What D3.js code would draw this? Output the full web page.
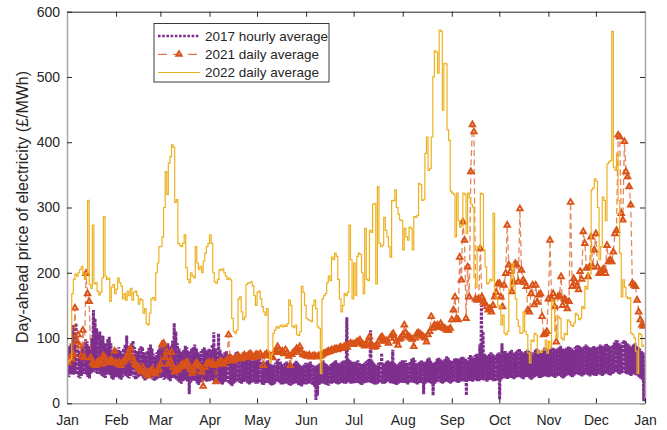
<!DOCTYPE html>
<html><head><meta charset="utf-8">
<script src="https://cdn.jsdelivr.net/npm/d3@7"></script>
<style>
body{margin:0;background:#fff;}
svg{display:block;font-family:"Liberation Sans",Arial,Helvetica,sans-serif;}
</style></head><body>
<svg id="chart" width="667" height="430"></svg>
<script>
const monthTicks=[0,31,59,90,120,151,181,212,243,273,304,334,365];
const monthLabels=["Jan","Feb","Mar","Apr","May","Jun","Jul","Aug","Sep","Oct","Nov","Dec","Jan"];
const yTicks=[0,100,200,300,400,500,600];
const seriesNames=["2017 hourly average","2021 daily average","2022 daily average"];

// 2017: [night low, day high] per day
const lowHigh2017=[
[42,85],[40,88],[44,92],[45,120],[43,95],[46,123],[44,90],[40,78],[38,80],[42,86],[45,92],[46,98],[44,95],[40,88],[38,82],[45,100],[48,143],[50,130],[47,115],[45,105],[46,110],[44,96],[42,104],[40,92],[39,85],[44,98],[46,102],[43,92],[38,80],[36,78],[40,84],
[40,82],[42,86],[38,80],[36,76],[40,84],[44,90],[42,104],[40,88],[38,82],[42,92],[44,96],[40,86],[36,78],[38,80],[40,84],[42,88],[41,86],[38,78],[35,74],[37,80],[40,85],[42,90],[39,84],[36,76],[34,72],[36,78],[38,82],[40,86],
[38,84],[40,97],[36,86],[38,90],[40,92],[36,84],[34,88],[38,96],[40,123],[38,110],[36,92],[34,84],[32,80],[30,78],[34,82],[36,88],[35,86],[33,80],[14,78],[32,84],[34,86],[36,90],[34,84],[30,78],[28,74],[32,80],[34,84],[36,86],[35,82],[33,80],[34,84],
[34,82],[36,90],[35,109],[33,84],[32,80],[34,107],[33,82],[30,76],[28,72],[32,78],[34,80],[33,76],[30,72],[28,70],[26,68],[30,74],[32,78],[34,80],[33,76],[31,74],[30,72],[32,76],[34,78],[33,75],[30,70],[29,68],[31,72],[33,76],[32,74],[30,70],
[30,66],[32,68],[31,64],[29,62],[28,60],[30,64],[32,66],[31,62],[29,60],[27,58],[28,60],[30,62],[32,66],[33,68],[31,64],[29,60],[28,58],[30,62],[31,64],[30,62],[28,60],[27,58],[29,60],[30,62],[31,65],[30,63],[28,60],[27,58],[26,56],[29,60],[30,62],
[29,60],[30,62],[31,64],[30,60],[28,58],[26,56],[5,58],[12,60],[28,62],[30,64],[31,66],[30,62],[29,60],[28,58],[27,56],[29,60],[30,62],[31,64],[32,66],[30,62],[29,60],[30,62],[32,64],[31,66],[30,62],[30,132],[33,68],[32,66],[30,62],[31,64],
[30,62],[31,64],[32,66],[30,62],[29,60],[28,60],[30,62],[31,64],[32,66],[33,68],[32,112],[31,66],[30,62],[29,60],[28,58],[30,62],[32,64],[31,77],[30,62],[29,60],[31,64],[33,66],[32,64],[30,62],[31,82],[30,62],[29,60],[28,58],[30,62],[31,64],[32,66],
[31,64],[32,66],[30,62],[29,60],[31,64],[32,68],[33,70],[31,66],[30,62],[29,60],[30,64],[32,66],[31,64],[14,62],[30,64],[32,68],[33,70],[31,66],[30,62],[12,60],[30,64],[32,68],[34,70],[33,68],[31,66],[30,64],[32,68],[34,72],[33,70],[31,66],[30,64],
[32,66],[33,68],[34,70],[32,68],[31,66],[33,70],[34,72],[33,70],[33,68],[12,66],[34,70],[35,74],[34,72],[33,70],[35,74],[36,76],[34,72],[34,90],[35,150],[36,110],[35,76],[34,74],[33,72],[35,76],[36,78],[35,76],[34,74],[33,72],[35,76],[36,78],
[6,76],[36,92],[38,78],[40,80],[38,78],[37,76],[39,80],[40,82],[38,78],[37,76],[39,80],[40,82],[42,84],[40,80],[38,78],[37,76],[39,80],[41,82],[40,80],[38,78],[36,76],[38,78],[40,82],[42,84],[41,82],[39,80],[38,78],[40,82],[42,86],[41,84],[40,82],
[40,82],[42,84],[41,86],[40,84],[39,82],[41,84],[43,86],[42,88],[40,84],[38,82],[40,84],[42,86],[44,88],[43,86],[41,84],[40,82],[42,86],[44,88],[45,90],[43,88],[42,86],[41,84],[43,88],[45,90],[44,88],[42,86],[41,84],[43,86],[44,88],[42,86],
[42,86],[44,88],[45,90],[43,88],[42,86],[44,90],[46,92],[45,90],[43,88],[42,86],[44,90],[46,94],[48,97],[47,96],[45,92],[44,90],[46,94],[48,97],[47,95],[45,92],[44,90],[43,88],[42,86],[44,90],[45,92],[43,88],[42,86],[40,84],[38,80],[36,78],[3,76]
];

const daily2021=[
64,62,70,68,75,146,94,105,88,72,112,70,199,168,156,70,62,60,58,62,65,64,60,73,70,66,62,65,67,63,80,
62,60,63,58,62,65,68,70,78,84,72,65,60,58,55,52,48,55,50,45,42,48,50,52,46,45,50,52,
60,90,92,70,79,60,65,78,55,48,52,51,55,58,60,57,62,63,56,52,46,50,60,62,58,56,48,26,55,60,62,
62,60,63,58,33,60,62,65,63,60,64,66,105,70,68,65,67,70,72,70,68,72,74,70,72,75,76,72,70,74,
75,73,76,72,58,74,76,75,73,72,70,78,80,87,82,78,80,76,82,78,72,58,75,78,80,84,82,87,78,75,74,
73,72,74,71,72,73,72,71,73,72,74,76,77,78,80,79,82,81,83,84,82,85,86,84,87,88,86,90,92,91,
90,92,94,95,97,92,90,88,92,95,102,90,88,86,87,90,95,100,102,98,95,96,92,100,104,107,100,95,89,98,100,
105,120,108,104,102,100,98,87,100,107,108,106,104,102,100,94,105,110,133,115,120,118,120,116,122,118,115,114,112,112,115,
128,143,163,130,128,224,189,278,250,130,209,163,355,427,416,160,158,160,237,163,155,153,148,143,145,140,150,163,170,183,
184,163,148,181,199,273,212,202,171,186,214,212,186,298,204,189,185,179,143,140,168,181,151,181,155,166,168,133,105,107,110,
160,250,160,168,148,94,163,165,194,150,160,158,145,156,308,179,191,186,180,174,202,190,263,245,207,194,209,255,209,235,
260,209,199,199,204,206,199,242,217,220,217,232,260,265,411,408,291,281,401,355,347,332,304,184,181,179,158,140,128,120,118
];

const daily2022=[
62,65,68,168,190,198,195,200,205,210,198,190,200,311,182,176,273,183,185,172,166,170,192,286,195,190,192,156,178,182,168,
175,192,185,180,160,168,158,172,165,176,158,170,172,165,152,160,158,138,145,122,120,138,160,162,158,200,215,240,
240,255,300,355,320,368,378,396,392,308,312,245,242,240,245,258,208,190,185,200,195,192,240,215,205,210,200,218,230,240,245,
258,245,200,186,184,190,205,204,206,200,195,190,192,189,130,110,107,112,160,163,140,128,132,182,184,185,186,180,165,150,
170,172,160,148,140,135,145,80,62,75,107,112,117,115,118,120,117,120,118,122,158,150,118,116,120,105,104,110,179,170,150,
130,128,127,125,150,158,145,117,115,46,160,165,168,185,195,188,224,220,230,225,190,160,140,150,168,165,170,273,220,160,
215,165,225,230,228,200,168,268,190,188,265,262,305,306,183,332,245,240,242,285,265,255,240,224,311,310,327,300,290,281,280,
235,268,255,250,270,268,235,286,285,288,337,335,311,312,383,408,357,360,408,500,540,538,506,572,570,449,521,520,419,403,325,
322,320,255,322,280,270,272,322,320,260,322,315,305,301,193,178,240,238,322,320,235,209,183,185,190,188,291,170,160,148,
150,120,135,107,105,110,175,190,214,180,160,128,118,107,108,140,110,105,77,62,97,95,107,105,77,80,78,82,82,97,77,
95,85,158,150,110,100,133,130,100,97,107,105,128,125,120,118,123,138,135,128,130,148,145,179,175,199,198,327,330,344,
340,300,220,240,316,311,280,367,370,372,570,362,357,383,311,230,163,189,178,163,160,162,107,105,100,80,46,107,105,87,90
];

const C17="#7E2F8E", C21="#D95319", C22="#EDB120", INK="#262626", GRAY="#a6a6a6";
const FONT='"Liberation Sans",Arial,Helvetica,sans-serif';

const svg=d3.select("#chart");
const x=d3.scaleLinear().domain([0,365]).range([67,645]);
const y=d3.scaleLinear().domain([0,600]).range([403.3,11.7]);

svg.append("defs").append("clipPath").attr("id","clip").append("rect")
  .attr("x",x(0)).attr("y",y(600)).attr("width",x(365)-x(0)).attr("height",y(0)-y(600));
const plot=svg.append("g").attr("clip-path","url(#clip)");

// 2017 hourly band
const pts2017=[];
lowHigh2017.forEach((p,d)=>{pts2017.push([d+0.2,p[0]]);pts2017.push([d+0.7,p[1]]);});
plot.append("path").datum(pts2017)
  .attr("d",d3.line().x(d=>x(d[0])).y(d=>y(d[1])))
  .attr("fill","none").attr("stroke",C17).attr("stroke-width",3).attr("stroke-dasharray","3,1.3");

// 2021 daily
plot.append("path").datum(daily2021)
  .attr("d",d3.line().x((d,i)=>x(i)).y(d=>y(d)))
  .attr("fill","none").attr("stroke",C21).attr("stroke-width",1.3).attr("stroke-opacity",0.7).attr("stroke-dasharray","6,3.5");
const tri=d3.symbol(d3.symbolTriangle,13)();
plot.selectAll("path.tri").data(daily2021).join("path").attr("class","tri")
  .attr("d",tri).attr("transform",(d,i)=>`translate(${x(i)},${y(d)})`)
  .attr("fill","none").attr("stroke",C21).attr("stroke-width",1.9).attr("stroke-linejoin","miter");

// 2022 daily (stairs)
plot.append("path").datum(daily2022)
  .attr("d",d3.line().curve(d3.curveStepAfter).x((d,i)=>x(i)).y(d=>y(d)))
  .attr("fill","none").attr("stroke",C22).attr("stroke-width",1.2);

// Axes
function styleAxis(g,domainColor,domainWidth){
  g.attr("font-family",FONT).attr("font-size",14);
  g.select(".domain").attr("stroke",domainColor).attr("stroke-width",domainWidth);
  g.selectAll(".tick line").attr("stroke",INK).attr("stroke-width",1);
  g.selectAll(".tick text").attr("fill",INK);
}
const gTop=svg.append("g").attr("transform",`translate(0,${y(600)})`)
  .call(d3.axisTop(x).tickValues(monthTicks).tickFormat("").tickSizeInner(-5).tickSizeOuter(0));
styleAxis(gTop,INK,1);
const gRight=svg.append("g").attr("transform",`translate(${x(365)},0)`)
  .call(d3.axisRight(y).tickValues(yTicks).tickFormat("").tickSizeInner(-5).tickSizeOuter(0));
styleAxis(gRight,GRAY,1.5);
const gBottom=svg.append("g").attr("transform",`translate(0,${y(0)})`)
  .call(d3.axisBottom(x).tickValues(monthTicks).tickFormat((d,i)=>monthLabels[i]).tickSizeInner(-5).tickSizeOuter(0).tickPadding(12));
styleAxis(gBottom,GRAY,1.5);
const gLeft=svg.append("g").attr("transform",`translate(${x(0)},0)`)
  .call(d3.axisLeft(y).tickValues(yTicks).tickSizeInner(-5).tickSizeOuter(0).tickPadding(7));
styleAxis(gLeft,GRAY,1.5);

// Y label
svg.append("text").attr("transform","translate(22,207) rotate(-90)")
  .attr("text-anchor","middle").attr("dominant-baseline","central")
  .attr("font-family",FONT).attr("font-size",16).attr("fill",INK)
  .text("Day-ahead price of electricity (£/MWh)");

// Legend
const lg=svg.append("g");
lg.append("rect").attr("x",154).attr("y",23.5).attr("width",175).attr("height",58.5)
  .attr("fill","#fff").attr("stroke",INK).attr("stroke-width",0.9);
const rowY=[36,54.3,72.5];
lg.append("line").attr("x1",158).attr("x2",200).attr("y1",rowY[0]).attr("y2",rowY[0])
  .attr("stroke",C17).attr("stroke-width",2.6).attr("stroke-dasharray","2.6,1.6");
lg.append("line").attr("x1",158).attr("x2",200).attr("y1",rowY[1]).attr("y2",rowY[1])
  .attr("stroke",C21).attr("stroke-width",1.2).attr("stroke-opacity",0.8).attr("stroke-dasharray","9,6");
lg.append("path").attr("d",tri).attr("transform",`translate(179,${rowY[1]})`)
  .attr("fill","none").attr("stroke",C21).attr("stroke-width",1.9);
lg.append("line").attr("x1",158).attr("x2",200).attr("y1",rowY[2]).attr("y2",rowY[2])
  .attr("stroke",C22).attr("stroke-width",1.2);
lg.selectAll("text.lbl").data(seriesNames).join("text").attr("class","lbl")
  .attr("x",205).attr("y",(d,i)=>rowY[i]).attr("dominant-baseline","central")
  .attr("font-family",FONT).attr("font-size",13.5).attr("fill",INK).text(d=>d);
</script>
</body></html>
